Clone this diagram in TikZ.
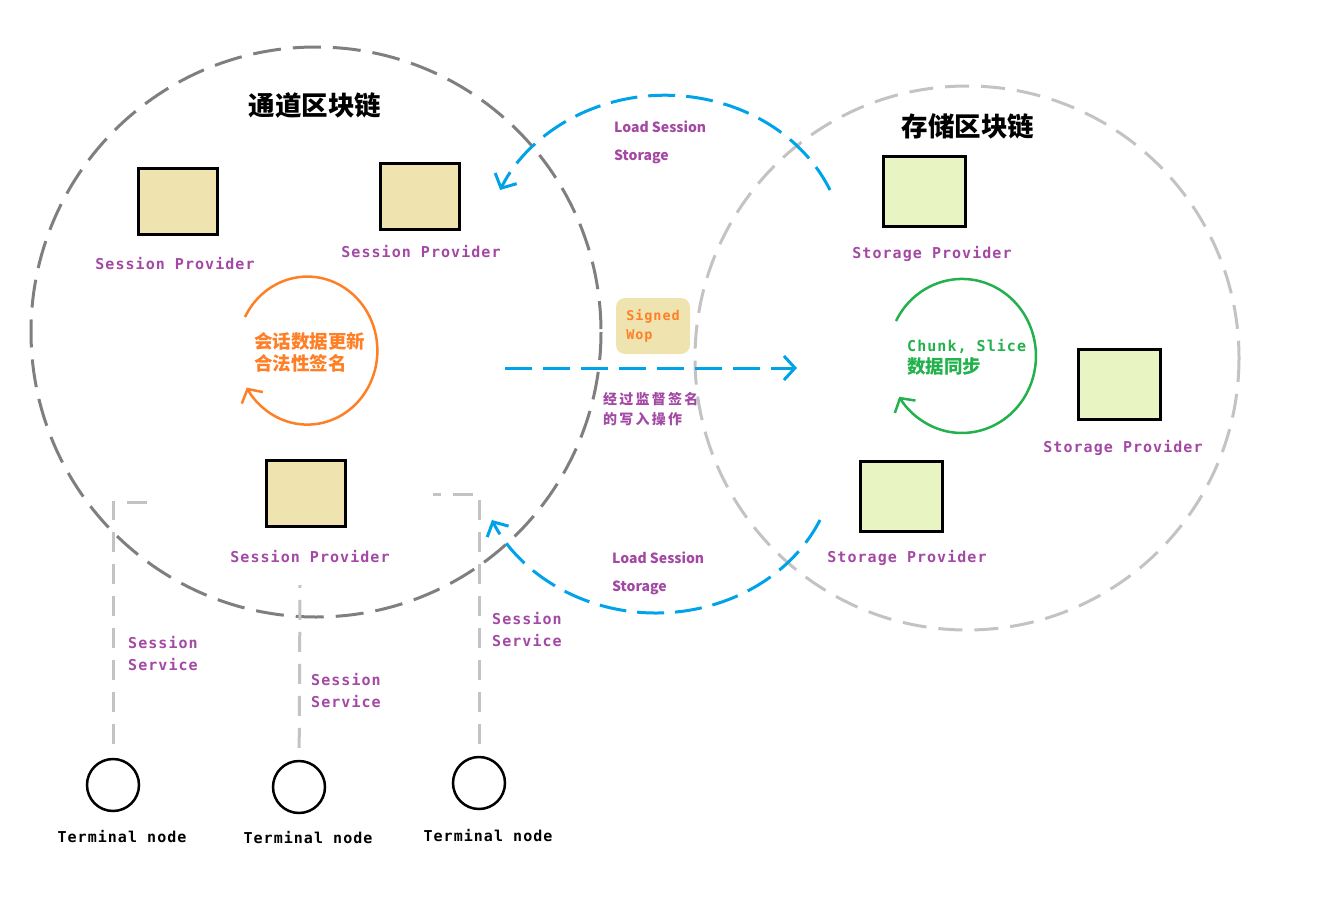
\documentclass[tikz,border=0pt]{standalone}
\usepackage{fontspec}
\usepackage{tikz}
\usepackage{xcolor}
\usetikzlibrary{arrows.meta}

\newfontfamily\cjk{Noto Sans CJK SC}
\newfontfamily\cjkwide{Noto Sans CJK SC}[LetterSpace=16]
\newfontfamily\monof{DejaVu Sans Mono}[LetterSpace=7]

\definecolor{chainL}{HTML}{7F7F7F}
\definecolor{chainR}{HTML}{C3C3C3}
\definecolor{flowblue}{HTML}{00A2E8}
\definecolor{syncorange}{HTML}{FF7F27}
\definecolor{syncgreen}{HTML}{22B14C}
\definecolor{labpurple}{HTML}{A349A4}
\definecolor{tanfill}{HTML}{EFE4B0}
\definecolor{limefill}{HTML}{E8F5C2}

\begin{document}
\begin{tikzpicture}[x=1pt,y=-1pt]
        \useasboundingbox (0,0) rectangle (1318,910);

        % the two chains
        \draw[chainL, line width=3pt, dash pattern=on 28pt off 12pt] (316,332) circle[radius=285];
        \draw[chainR, line width=3pt, dash pattern=on 24pt off 12pt] (967,358) circle[radius=272];

        \node[font={\cjk\bfseries\fontsize{26.5}{30}\selectfont}] (chanT) at (315,105) {通道区块链};
        \node[font={\cjk\bfseries\fontsize{26.5}{30}\selectfont}] (storT) at (968,126) {存储区块链};

        \begin{scope}[every node/.style = {draw, line width=3pt, fill=tanfill, minimum width=79pt, minimum height=66pt, inner sep=0}]
            \node (SP1) at (178,201) {};
            \node (SP2) at (420,196) {};
            \node (SP3) at (306,493) {};
        \end{scope}

        \begin{scope}[every node/.style = {draw, line width=3pt, fill=limefill, minimum width=82pt, minimum height=70pt, inner sep=0}]
            \node (StP1) at (924,191) {};
            \node (StP2) at (1119,384) {};
            \node (StP3) at (901,496) {};
        \end{scope}

        \begin{scope}[every node/.style = {circle, draw, line width=2.5pt, minimum size=52pt, inner sep=0}]
            \node (T1) at (113,785) {};
            \node (T2) at (299,787) {};
            \node (T3) at (479,783) {};
        \end{scope}

        \begin{scope}[every node/.style = {text=labpurple, inner sep=0, font={\monof\bfseries\fontsize{15}{22}\selectfont}}]
            \node (SP1l) at (175,264) {Session Provider};
            \node (SP2l) at (421,252) {Session Provider};
            \node (SP3l) at (310,557) {Session Provider};

            \node (StP1l) at (932,254) {Storage Provider};
            \node (StP2l) at (1123,448) {Storage Provider};
            \node (StP3l) at (907,558) {Storage Provider};

            \node[anchor=west, align=left] (SS1) at (128,654) {Session\\Service};
            \node[anchor=west, align=left] (SS2) at (311,691) {Session\\Service};
            \node[anchor=west, align=left] (SS3) at (492,630) {Session\\Service};

            \node[text=black] (T1l) at (122,837) {Terminal node};
            \node[text=black] (T2l) at (308,838) {Terminal node};
            \node[text=black] (T3l) at (488,836) {Terminal node};
        \end{scope}

        \begin{scope}[every node/.style = {text=labpurple, inner sep=0, anchor=west, align=left, font={\cjk\bfseries\fontsize{14}{28}\selectfont}}]
            \node (LS1) at (614,142) {Load Session\\Storage};
            \node (LS2) at (612,573) {Load Session\\Storage};
        \end{scope}

        \node[fill=tanfill, rounded corners=9pt, minimum width=74pt, minimum height=56pt, align=left, inner sep=0,
              text=syncorange, font={\monof\bfseries\fontsize{13.5}{19}\selectfont}] (wop) at (653,326) {Signed\\Wop};

        \node[text=labpurple, inner sep=0, anchor=west, align=left, font={\cjkwide\bfseries\fontsize{14}{20}\selectfont}] (wopl) at (603,409) {经过监督签名\\的写入操作};

        \node[text=syncorange, inner sep=0, anchor=west, align=left, font={\cjk\bfseries\fontsize{18.5}{22}\selectfont}] (syncL) at (254,352) {会话数据更新\\合法性签名};
        \node[text=syncgreen, inner sep=0, anchor=west, align=left, font={\cjk\bfseries\fontsize{18.5}{22}\selectfont}] (syncR) at (907,357) {{\monof\fontsize{15}{22}\selectfont Chunk, Slice}\\数据同步};

        % flows
        \coordinate (upS) at (830,190);
        \coordinate (loS) at (820,520);
        \coordinate (wopS) at (505,368);
        \coordinate (wopE) at (797,368);
        \coordinate (orS) at (245,317);
        \coordinate (grS) at (896,321);

        \begin{scope}[>={Straight Barb[length=11pt,width=24pt]}, line width=3pt]
            \draw[flowblue, dash pattern=on 27pt off 11pt, ->] (upS) arc[start angle=-23.6, end angle=-156.4, x radius=180, y radius=158];
            \draw[flowblue, dash pattern=on 27pt off 11pt, ->] (loS) arc[start angle=24.3, end angle=155.7, x radius=180, y radius=158];
            \draw[flowblue, dash pattern=on 27pt off 11pt, ->] (wopS) -- (wopE);
        \end{scope}

        \begin{scope}[>={Straight Barb[length=10pt,width=24pt]}, line width=2.5pt]
            \draw[syncorange, ->] (orS) arc[start angle=-153, end angle=150, x radius=70, y radius=74];
            \draw[syncgreen, ->] (grS) arc[start angle=-153, end angle=148, x radius=74, y radius=77];
        \end{scope}

        % session service links
        \coordinate (k1) at (153,502);
        \coordinate (k2) at (300,585);
        \coordinate (k3) at (433,494);
        \begin{scope}[chainR, line width=3pt, dash pattern=on 20pt off 12pt]
            \draw[shorten <=14pt] (T1) |- (k1);
            \draw[shorten <=12pt] (T2) -- (k2);
            \draw[shorten <=12pt] (T3) |- (k3);
        \end{scope}
    \end{tikzpicture}
\end{document}
